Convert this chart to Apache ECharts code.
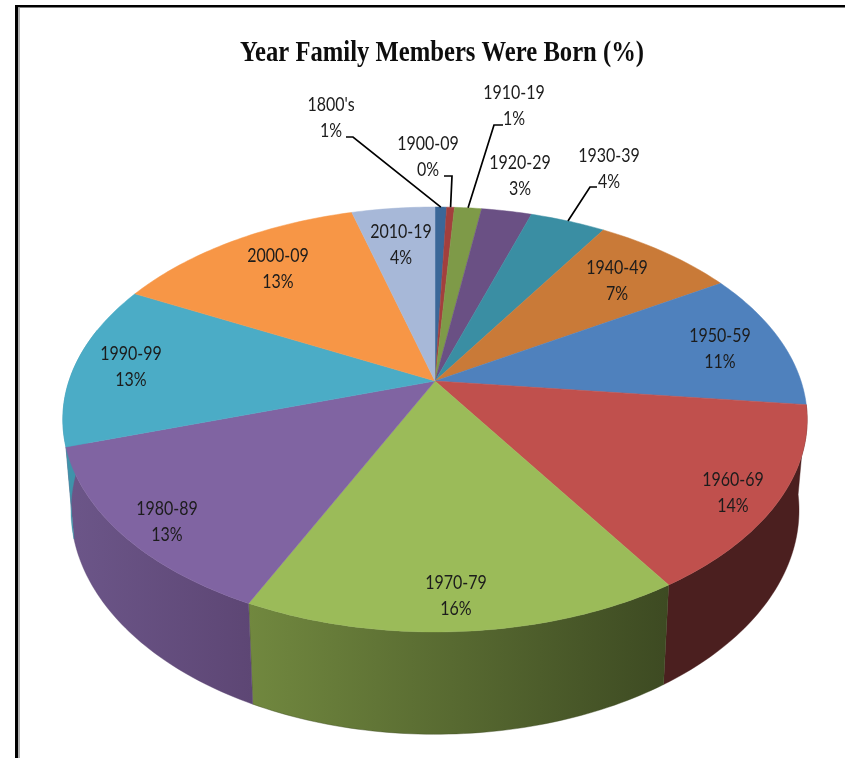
<!DOCTYPE html>
<html><head><meta charset="utf-8">
<style>html,body{margin:0;padding:0;background:#fff}#c{width:845px;height:758px}</style>
<script src="https://cdn.jsdelivr.net/npm/echarts@6/dist/echarts.min.js"></script>
</head><body><div id="c"></div>
<script>
const categories = ["1800's","1900-09","1910-19","1920-29","1930-39","1940-49","1950-59","1960-69","1970-79","1980-89","1990-99","2000-09","2010-19"];
const shares = [0.6,0.4,1.4,2.6,3.9,7.4,10.5,14.1,16.1,13.1,12.5,13.1,4.3];
const titleText = "Year Family Members Were Born (%)";

// Styles
const topColors = ['#3b6798','#a33f3d','#7e9a48','#6a5084','#3a8ea3','#c97a38','#4f81bd','#c0504d','#9bbb59','#8064a2','#4bacc6','#f79646','#a7b8d8'];
const wallFills = {
  7: ['#4b1f1f','#4b1f1f'],
  8: ['#71883f','#3d4a22'],
  9: ['#6c5689','#5d4674'],
  10: ['#3f93aa','#3f93aa']
};
// Projection of the tilted disc (top face and bottom face)
const topFace = {x0:435, y0:381, f:366, g:205.5, k:0.1812};
const botFace = {x0:435, y0:469.5, f:358, g:216.8, k:0.1812};
const WALL_FROM = 90, WALL_TO = 285;
// Label centres and leader elbows (layout only)
const labelAt = [[331,117.5],[428,156.5],[514,105.5],[520,176],[609,168.5],[617,281],[720,349],[733,492.5],[456,595.5],[167,521.5],[131,367],[278,269],[401,245]];
const leaders = {0:[[346,137],[353,137]],1:[[444,176],[452,176]],2:[[503,125],[494,125]],4:[[597,187],[590,187]]};

const total = shares.reduce((a,b)=>a+b,0);
const starts = []; shares.reduce((a,b,i)=>(starts[i]=a,a+b),0);
const ang = v => v/total*360;
function project(face, deg, r){
  const t = deg*Math.PI/180, sx = Math.sin(t), sy = -Math.cos(t), d = 1-face.k*r*sy;
  return [face.x0+face.f*r*sx/d, face.y0+face.g*r*sy/d];
}
function arcPts(face, a, b){
  const n = Math.max(2, Math.ceil(Math.abs(b-a))), p=[];
  for(let i=0;i<=n;i++) p.push(project(face, a+(b-a)*i/n, 1));
  return p;
}
const rows = shares.map((v,i)=>[v,i]);

function renderWall(params, api){
  const i = params.dataIndex, a0 = ang(starts[i]), a1 = a0+ang(api.value(0));
  const fill = wallFills[i];
  if(!fill) return {type:'group',children:[]};
  const a = Math.max(a0, WALL_FROM), b = Math.min(i===10?WALL_TO:a1, WALL_TO);
  const points = arcPts(topFace,a,b).concat(arcPts(botFace,a,b).reverse());
  const grad = {type:'linear',x:0,y:0,x2:1,y2:0,colorStops:[{offset:0,color:fill[0]},{offset:1,color:fill[1]}]};
  return {type:'polygon',shape:{points},style:{fill:grad,stroke:fill[1],lineWidth:0.4}};
}
function renderTop(params, api){
  const i = params.dataIndex, a0 = ang(starts[i]), a1 = a0+ang(api.value(0));
  const points = [[topFace.x0,topFace.y0]].concat(arcPts(topFace,a0,a1));
  return {type:'polygon',shape:{points},style:{fill:topColors[i],stroke:topColors[i],lineWidth:0.5}};
}
function renderLabel(params, api){
  const i = params.dataIndex, v = api.value(0), a0 = ang(starts[i]), mid = a0+ang(v)/2;
  const children = [];
  if(leaders[i]){
    children.push({type:'polyline',shape:{points:leaders[i].concat([project(topFace,mid,1)])},
      style:{fill:null,stroke:'#000',lineWidth:1.7}});
  }
  children.push({type:'text',x:labelAt[i][0],y:labelAt[i][1],scaleX:0.8,
    style:{text:categories[i]+'\n'+Math.round(v)+'%',x:0,y:0,align:'center',verticalAlign:'middle',
      font:'20px Lato,"Liberation Sans",sans-serif',lineHeight:26,fill:'#1c1c1c'}});
  return {type:'group',children};
}
const chart = echarts.init(document.getElementById('c'),null,{renderer:'canvas'});
chart.setOption({
  animation:false,
  backgroundColor:'#fff',
  graphic:[
    {type:'rect',shape:{x:15,y:5,width:830,height:2.4},style:{fill:'#000'}},
    {type:'rect',shape:{x:15,y:5,width:3,height:753},style:{fill:'#000'}},
    {type:'rect',shape:{x:18,y:7.4,width:2,height:751},style:{fill:'#b0b0b0'}},
    {type:'text',x:442,y:54,scaleX:0.85,style:{text:titleText,x:0,y:0,align:'center',verticalAlign:'middle',
      font:'bold 29px "Liberation Serif",serif',fill:'#0d0d0d'}}
  ],
  series:[
    {type:'custom',coordinateSystem:'none',data:rows,renderItem:renderWall,z:1,silent:true},
    {type:'custom',coordinateSystem:'none',data:rows,renderItem:renderTop,z:2,silent:true},
    {type:'custom',coordinateSystem:'none',data:rows,renderItem:renderLabel,z:3,silent:true}
  ]
});
</script></body></html>
